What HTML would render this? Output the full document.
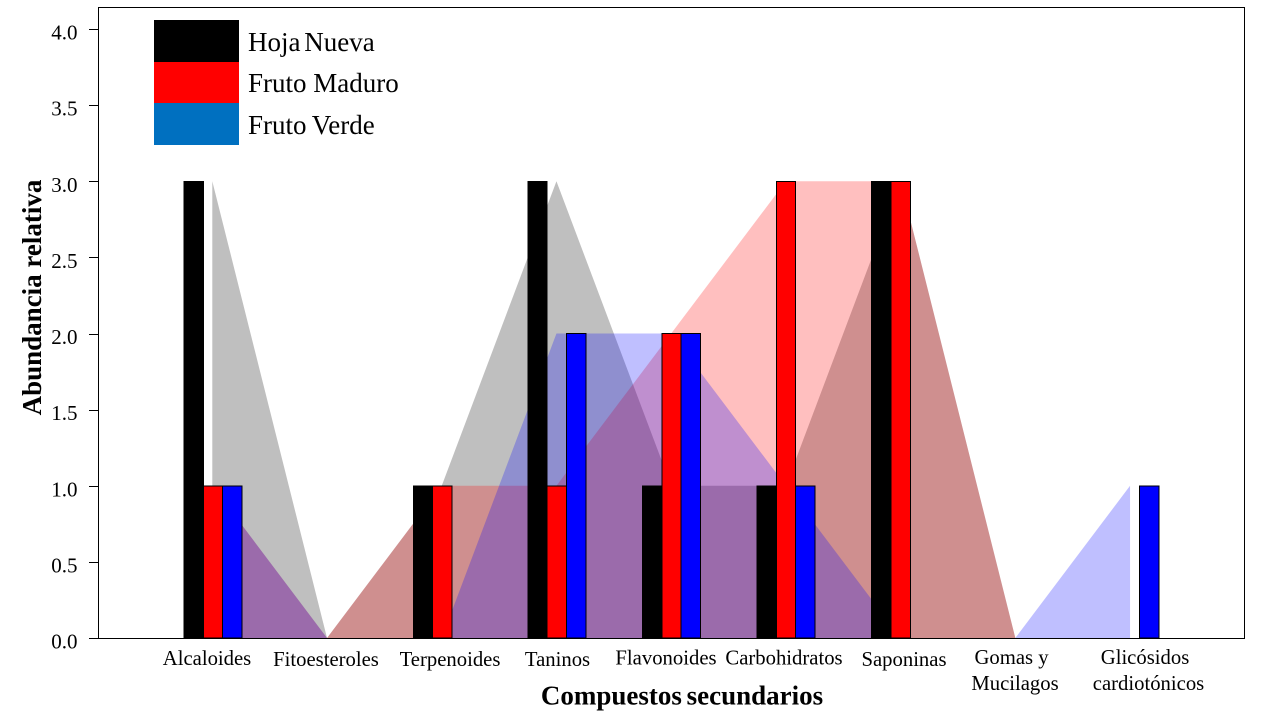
<!DOCTYPE html>
<html lang="es">
<head>
<meta charset="utf-8">
<title>Abundancia relativa de compuestos secundarios</title>
<style>
html,body{margin:0;padding:0;background:#fff;width:1280px;height:720px;overflow:hidden}
svg{display:block;font-family:"Liberation Serif",serif;fill:#000}
</style>
</head>
<body>
<svg id="chart" width="1280" height="720" viewBox="0 0 1280 720" xmlns="http://www.w3.org/2000/svg">
  <rect x="0" y="0" width="1280" height="720" fill="#fff"/>
  <g id="areas"></g>
  <g id="bars"></g>
  <rect x="98.5" y="7.5" width="1146" height="631" fill="none" stroke="#000" stroke-width="1" shape-rendering="crispEdges"/>
  <g id="y-axis"></g>

  <g font-size="20.7" text-anchor="middle">
    <text x="207" y="665">Alcaloides</text>
    <text x="326" y="666">Fitoesteroles</text>
    <text x="450" y="666">Terpenoides</text>
    <text x="557.5" y="666">Taninos</text>
    <text x="666" y="664.5">Flavonoides</text>
    <text x="784" y="664.5">Carbohidratos</text>
    <text x="904" y="666">Saponinas</text>
    <text x="1011.5" y="664">Gomas y</text>
    <text x="1015" y="690">Mucilagos</text>
    <text x="1145" y="664">Glicósidos</text>
    <text x="1148.5" y="690">cardiotónicos</text>
  </g>

  <text x="682" y="704.5" font-size="27" font-weight="bold" text-anchor="middle" word-spacing="-2">Compuestos secundarios</text>
  <text transform="translate(41 297.5) rotate(-90)" font-size="27" font-weight="bold" text-anchor="middle">Abundancia relativa</text>

  <g>
    <rect x="154" y="20" width="85" height="42" fill="#000" shape-rendering="crispEdges"/>
    <rect x="154" y="62" width="85" height="41" fill="#f00" shape-rendering="crispEdges"/>
    <rect x="154" y="103" width="85" height="42" fill="#0070c0" shape-rendering="crispEdges"/>
    <text x="248" y="51" font-size="27" word-spacing="-3">Hoja Nueva</text>
    <text x="248" y="92" font-size="27">Fruto Maduro</text>
    <text x="248" y="134" font-size="27" word-spacing="-1">Fruto Verde</text>
  </g>
</svg>
<script>
const categories = ["Alcaloides", "Fitoesteroles", "Terpenoides", "Taninos", "Flavonoides", "Carbohidratos", "Saponinas", "Gomas y Mucilagos", "Glicósidos cardiotónicos"];
const hojaNueva = [3, 0, 1, 3, 1, 1, 3, 0, 0];
const frutoMaduro = [1, 0, 1, 1, 2, 3, 3, 0, 0];
const frutoVerde = [1, 0, 0, 2, 2, 1, 0, 0, 1];
const yTicks = [0, 0.5, 1, 1.5, 2, 2.5, 3, 3.5, 4];
const yTickLabels = ["0.0", "0.5", "1.0", "1.5", "2.0", "2.5", "3.0", "3.5", "4.0"];

const NS = "http://www.w3.org/2000/svg";
function yScale(v) { return 638 - v * 152.25; }
function areaX(i) { return 212.3 + i * 114.72; }
function barGroupX(i) { return 213.05 + i * 114.6; }
const barWidth = 19.3;

const areaLayer = document.getElementById("areas");
const barLayer = document.getElementById("bars");
const yAxis = document.getElementById("y-axis");

function drawArea(values, color, name) {
  const pts = values.map(function (v, i) { return areaX(i) + "," + yScale(v); });
  pts.push(areaX(values.length - 1) + "," + yScale(0));
  pts.push(areaX(0) + "," + yScale(0));
  const poly = document.createElementNS(NS, "polygon");
  poly.setAttribute("points", pts.join(" "));
  poly.setAttribute("fill", color);
  poly.setAttribute("fill-opacity", "0.25");
  
  
  areaLayer.appendChild(poly);
}
drawArea(hojaNueva, "#000", "area-hoja-nueva");
drawArea(frutoMaduro, "#f00", "area-fruto-maduro");
drawArea(frutoVerde, "#00f", "area-fruto-verde");

function drawBars(values, color, offset, name) {
  values.forEach(function (v, i) {
    const r = document.createElementNS(NS, "rect");
    r.setAttribute("x", barGroupX(i) + offset * barWidth);
    r.setAttribute("y", yScale(v));
    r.setAttribute("width", barWidth);
    r.setAttribute("height", yScale(0) - yScale(v));
    r.setAttribute("fill", color);
    r.setAttribute("stroke", "#000");
    r.setAttribute("stroke-width", "1");
    r.setAttribute("shape-rendering", "crispEdges");
    
    
    barLayer.appendChild(r);
  });
}
drawBars(hojaNueva, "#000", -1.5, "bar-hoja-nueva");
drawBars(frutoMaduro, "#f00", -0.5, "bar-fruto-maduro");
drawBars(frutoVerde, "#00f", 0.5, "bar-fruto-verde");

yTicks.forEach(function (t, i) {
  const tick = document.createElementNS(NS, "line");
  const y = Math.round(yScale(t)) + 0.5;
  tick.setAttribute("x1", 89);
  tick.setAttribute("x2", 98.5);
  tick.setAttribute("y1", y);
  tick.setAttribute("y2", y);
  tick.setAttribute("stroke", "#000");
  tick.setAttribute("shape-rendering", "crispEdges");
  
  
  yAxis.appendChild(tick);
  const label = document.createElementNS(NS, "text");
  label.setAttribute("x", 77.5);
  label.setAttribute("y", yScale(t) + 10.5);
  label.setAttribute("font-size", "21");
  label.setAttribute("text-anchor", "end");
  label.textContent = yTickLabels[i];
  
  
  yAxis.appendChild(label);
});
</script>
</body>
</html>
